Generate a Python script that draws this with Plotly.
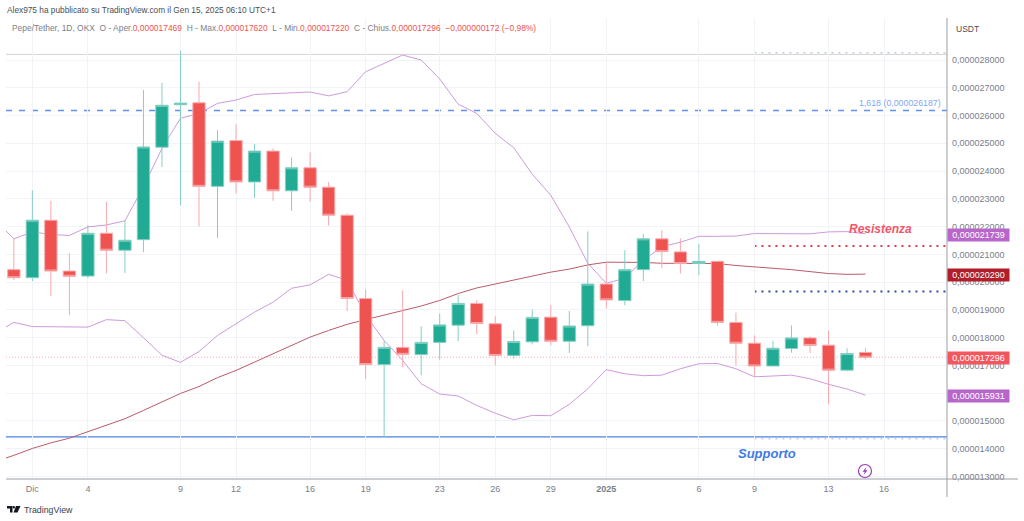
import pandas as pd
import plotly.graph_objects as go

# prices are in millionths of USDT
candle_dates = pd.date_range("2024-11-30", "2025-01-15", freq="D")
band_dates = pd.date_range("2024-11-29", "2025-01-15", freq="D")

opens = [20.45, 20.16, 22.23, 20.40, 20.22, 21.76, 21.15, 21.53, 24.86, 26.39, 26.46, 23.45,
         25.10, 23.61, 24.72, 23.29, 24.12, 23.42, 22.41, 19.41, 17.03, 17.65, 17.39, 17.83,
         18.45, 19.23, 18.50, 17.36, 17.85, 18.74, 17.87, 18.43, 19.93, 19.34, 20.45, 21.56,
         21.09, 20.67, 20.75, 18.55, 17.80, 16.98, 17.61, 17.99, 17.73, 16.83, 17.469]
highs = [21.58, 23.31, 22.93, 21.04, 22.05, 22.89, 22.23, 26.92, 27.18, 28.33, 27.22, 25.48,
         25.69, 24.97, 24.82, 24.49, 24.67, 23.61, 22.48, 19.74, 17.88, 19.71, 18.41, 18.87,
         19.53, 19.35, 18.77, 18.26, 19.01, 19.17, 18.96, 21.83, 20.71, 21.15, 21.73, 21.87,
         21.58, 21.37, 20.77, 18.90, 18.08, 17.89, 18.44, 18.05, 18.26, 17.62, 17.620]
lows = [20.07, 20.04, 19.50, 18.81, 20.14, 20.32, 20.33, 21.09, 24.15, 22.77, 22.01, 21.59,
        23.19, 23.04, 22.93, 22.57, 22.89, 22.04, 18.96, 16.51, 14.42, 16.94, 16.65, 17.21,
        17.88, 18.12, 17.00, 17.24, 17.76, 17.72, 17.45, 17.69, 19.05, 19.17, 20.04, 20.51,
        20.31, 20.25, 18.43, 17.00, 16.58, 16.96, 17.46, 17.45, 15.60, 16.79, 17.220]
closes = [20.16, 22.23, 20.40, 20.21, 21.76, 21.15, 21.51, 24.87, 26.37, 26.45, 23.45, 25.08,
          23.61, 24.72, 23.29, 24.12, 23.42, 22.41, 19.41, 17.03, 17.65, 17.40, 17.83, 18.46,
          19.23, 18.51, 17.36, 17.86, 18.73, 17.87, 18.42, 19.93, 19.36, 20.45, 21.56, 21.10,
          20.67, 20.75, 18.55, 17.80, 16.98, 17.62, 17.99, 17.72, 16.83, 17.43, 17.296]

bb_upper = [22.23, 21.56, 21.81, 21.72, 21.68, 21.99, 22.06, 22.21, 23.43, 24.82, 25.90, 26.08,
            26.44, 26.56, 26.76, 26.79, 26.81, 26.85, 26.71, 26.86, 27.58, 27.88, 28.18, 28.00,
            27.32, 26.41, 26.08, 25.36, 24.84, 23.89, 23.13, 21.99, 20.68, 19.96, 20.14, 20.79,
            21.27, 21.44, 21.65, 21.65, 21.66, 21.75, 21.74, 21.73, 21.74, 21.81, 21.82, 21.739]
bb_basis = [13.54, 13.76, 14.01, 14.21, 14.38, 14.61, 14.84, 15.08, 15.38, 15.69, 15.99, 16.24,
            16.56, 16.82, 17.12, 17.42, 17.73, 18.02, 18.26, 18.48, 18.65, 18.81, 18.96, 19.14,
            19.34, 19.59, 19.79, 19.93, 20.07, 20.22, 20.36, 20.47, 20.62, 20.72, 20.72, 20.71,
            20.68, 20.67, 20.68, 20.67, 20.60, 20.56, 20.50, 20.45, 20.38, 20.31, 20.28, 20.290]
bb_lower = [18.16, 18.55, 18.40, 18.40, 18.40, 18.38, 18.65, 18.61, 18.00, 17.37, 17.11, 17.50,
            18.08, 18.51, 18.92, 19.28, 19.78, 19.90, 20.28, 20.07, 18.81, 17.90, 17.18, 16.34,
            15.97, 15.90, 15.56, 15.28, 15.04, 15.20, 15.19, 15.60, 16.16, 16.85, 16.70, 16.63,
            16.65, 16.88, 17.06, 17.07, 16.88, 16.59, 16.63, 16.65, 16.52, 16.32, 16.15, 15.931]

x_ticks = ["2024-12-01", "2024-12-04", "2024-12-09", "2024-12-12", "2024-12-16", "2024-12-19",
           "2024-12-23", "2024-12-26", "2024-12-29", "2025-01-01", "2025-01-06", "2025-01-09",
           "2025-01-13", "2025-01-16"]
x_labels = ["Dic", "4", "9", "12", "16", "19", "23", "26", "29", "<b>2025</b>", "6", "9", "13", "16"]
y_ticks = list(range(13, 29))
# the 16 label is fully covered by the last value tag in the original, so it stays blank
y_labels = ["" if v == 16 else f"{v / 1e6:.9f}".replace(".", ",") for v in y_ticks]

last_close = 17.296
fib_level = 26.187
top_level = 28.205
resistance = 21.304
mid_level = 19.659
support = 14.43
support_dots = 14.36
drawing_start = "2025-01-09"

GREEN = "#22AB94"
RED = "#EF5350"
PURPLE = "#CE9BDC"
TAG_PURPLE = "#B866C9"
GREY = "#7A7E87"
FIB_BLUE = "#5E92EE"
ICON = "#9C39B8"

W, H = 1024, 521
LEFT, RIGHT, TOP, BOTTOM = 6, 947, 18, 479


def px(x):
    return (x - LEFT) / (RIGHT - LEFT)


def py(y):
    return (BOTTOM - y) / (BOTTOM - TOP)


fig = go.Figure()

for values, color in [(bb_upper, PURPLE), (bb_lower, PURPLE), (bb_basis, "#BC5B68")]:
    fig.add_trace(go.Scatter(x=band_dates, y=values, mode="lines", line=dict(color=color, width=1),
                             hoverinfo="skip"))

# candles sit on an overlaid axis so the bands pass behind them
fig.add_trace(go.Candlestick(x=candle_dates, open=opens, high=highs, low=lows, close=closes, yaxis="y2",
                             increasing=dict(line=dict(color="#84CFC3", width=1), fillcolor=GREEN),
                             decreasing=dict(line=dict(color="#F7A9AD", width=1), fillcolor=RED)))


def hline(y, x0, color, width, dash):
    # x0 None means the full width of the pane
    fig.add_shape(type="line", xref="x" if x0 else "paper", x0=x0 if x0 else 0, x1=1 if not x0 else "2025-01-19 09:36",
                  yref="y", y0=y, y1=y, line=dict(color=color, width=width, dash=dash), layer="below")


hline(top_level, None, "#CFD2D8", 1, "solid")
hline(top_level + 0.06, drawing_start, "#C9CCD2", 1.5, "2px,5px")
hline(fib_level, None, FIB_BLUE, 1.5, "6px,7px")
hline(resistance, drawing_start, "#D9404A", 2, "2px,5px")
hline(mid_level, drawing_start, "#2F4F9E", 2, "2px,5px")
hline(support, None, "#4A82E4", 1.3, "solid")
hline(support_dots, drawing_start, "#C6CFDF", 1.5, "2px,5px")
hline(last_close, None, "#F5B3B7", 1, "1px,2px")

# axis lines run past the pane, as in the original widget
axis_line = dict(color="#9B9EA5", width=1)
fig.add_shape(type="line", xref="paper", yref="paper", x0=1, x1=1, y0=py(497), y1=1, line=axis_line)
fig.add_shape(type="line", xref="paper", yref="paper", x0=0, x1=px(1018), y0=0, y1=0, line=axis_line)

# TradingView logo
logo = dict(type="path", xref="paper", yref="paper", fillcolor="#131722", line=dict(width=0))
fig.add_shape(path=f"M {px(7)} {py(506)} H {px(12.5)} V {py(512.5)} H {px(10)} V {py(508.5)} H {px(7)} Z", **logo)
fig.add_shape(path=f"M {px(16)} {py(506)} H {px(20.5)} L {px(17.5)} {py(512.5)} H {px(13.5)} Z", **logo)
fig.add_shape(type="circle", xref="paper", yref="paper", x0=px(12.6), x1=px(15), y0=py(508.5), y1=py(506),
              fillcolor="#131722", line=dict(width=0))


def label(x, y, text, size=9, color=GREY, anchor="left", **kw):
    fig.add_annotation(xref="paper", yref="paper", x=px(x), y=py(y), text=text, showarrow=False, xanchor=anchor,
                       yanchor="middle", font=dict(size=size, color=color, family="Liberation Sans"), **kw)


label(5, 10, "Alex975 ha pubblicato su TradingView.com il Gen 15, 2025 06:10 UTC+1", size=8.3, color="#4A4E57")


def red(t):
    return f"<span style='color:{RED}'>{t}</span>"


label(10, 28, "Pepe/Tether, 1D, OKX  O - Aper." + red("0,000017469") + "  H - Max." + red("0,000017620")
      + "  L - Min." + red("0,000017220") + "  C - Chius." + red("0,000017296") + "  "
      + red("−0,000000172 (−0,98%)"), size=8.44, color="#7C808A")
label(954, 29, "USDT", size=8.5, color="#4A4E57")
label(943, 103, "1,618 (0,000026187)", size=8.8, color="#7FA8F0", anchor="right")
label(21.5, 510, "TradingView", size=8.8, color="#3A3E47")
label(880, 229, "<b><i>Resistenza</i></b>", size=12, color="#F2566A", anchor="center")
label(767, 453, "<b><i>Supporto</i></b>", size=13, color="#3F7BE6", anchor="center")

# last value tags on the price scale
for value, bg in [(21.739, TAG_PURPLE), (20.290, "#B01E2A"), (last_close, "#F4565E"), (15.931, TAG_PURPLE)]:
    fig.add_annotation(xref="paper", yref="y", x=1, y=value, xanchor="left", yanchor="middle", showarrow=False,
                       text=f"{value / 1e6:.9f}".replace(".", ","), width=59, height=10, bgcolor=bg, align="center",
                       yshift=-1, font=dict(size=9, color="#FFFFFF", family="Liberation Sans"))

# bolt icon under the last candle
fig.add_shape(type="circle", xref="paper", yref="paper", x0=px(858.5), x1=px(871.5), y0=py(477.5), y1=py(464.5),
              line=dict(color=ICON, width=1.2))
fig.add_shape(type="path", xref="paper", yref="paper", fillcolor=ICON, line=dict(width=0),
              path=f"M {px(866.5)} {py(467)} L {px(862.5)} {py(471.8)} H {px(864.8)} L {px(863.8)} {py(475)}"
                   f" L {px(867.5)} {py(470.3)} H {px(865.3)} Z")

grid = "#F0F3F8"
fig.update_layout(
    width=W, height=H, autosize=False, showlegend=False,
    margin=dict(l=LEFT, r=W - RIGHT, t=TOP, b=H - BOTTOM, pad=0),
    paper_bgcolor="#FFFFFF", plot_bgcolor="#FFFFFF", boxgap=0.05,
    font=dict(family="Liberation Sans", size=9, color=GREY),
    xaxis=dict(type="date", range=["2024-11-29 13:50", "2025-01-19 09:36"], rangeslider=dict(visible=False),
               tickmode="array", tickvals=x_ticks, ticktext=x_labels, gridcolor=grid, gridwidth=1,
               showline=False, ticks="", zeroline=False, ticklabelstandoff=3, tickfont=dict(size=9, color=GREY)),
    yaxis=dict(range=[12.909, 29.515], side="right", tickmode="array", tickvals=y_ticks, ticktext=y_labels,
               gridcolor=grid, gridwidth=1, showline=False, ticks="", zeroline=False, ticklabelstandoff=4,
               tickfont=dict(size=9, color=GREY)),
    yaxis2=dict(range=[12.909, 29.515], overlaying="y", side="right", visible=False),
)

fig.write_html("out.html", config=dict(displayModeBar=False), post_script="document.body.style.margin='0';")
